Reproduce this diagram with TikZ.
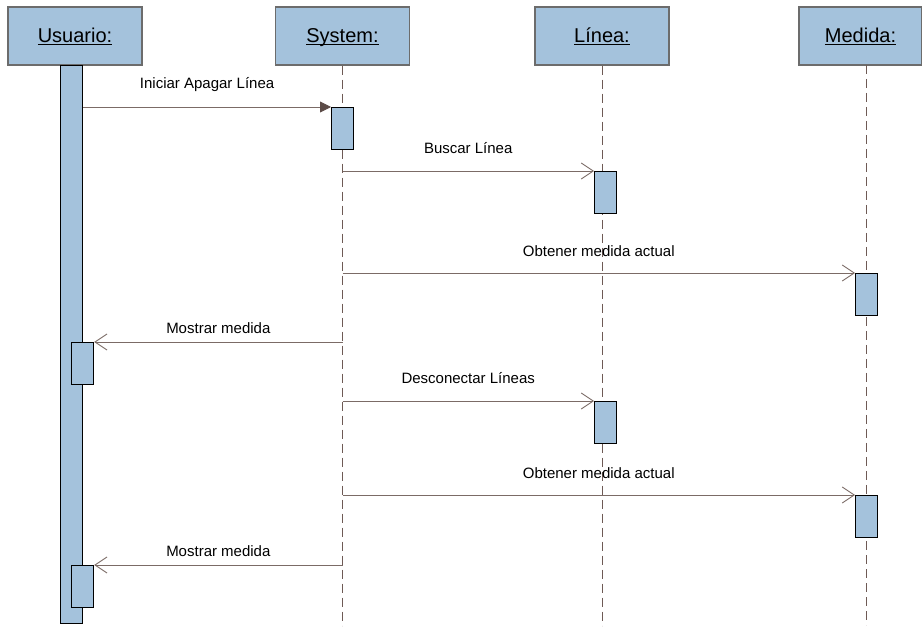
\documentclass[tikz,border=0pt]{standalone}
\usepackage{fontspec}
\setmainfont{Liberation Sans}
\usetikzlibrary{arrows.meta, positioning, calc}
\usepackage{xcolor}
\definecolor{boxblue}{HTML}{A4C2DC}
\definecolor{lifebrown}{HTML}{6E5A55}
\definecolor{msgbrown}{HTML}{7B6B66}
\definecolor{tipbrown}{HTML}{5C4B47}

\newcommand{\objname}[1]{\underline{\smash{#1}}}

\begin{document}
\begin{tikzpicture}[x=1pt, y=-1pt, >=Stealth,
    every node/.style={font=\fontsize{15}{18}\selectfont},
    head/.style={draw=gray!85!black, line width=1.2pt, fill=boxblue, minimum width=134pt,
      minimum height=58pt, inner sep=0pt, text height=14pt, text depth=0pt,
      font=\fontsize{20}{24}\selectfont},
    bar/.style={draw=black, line width=1.2pt, fill=boxblue, minimum width=22pt,
      minimum height=42pt, inner sep=0pt, anchor=north west},
    life/.style={draw=lifebrown, line width=1pt, dash pattern=on 9pt off 5pt},
    msg/.style={draw=msgbrown, line width=0.9pt, -{Straight Barb[length=12pt,width=16pt]}},
    call/.style={draw=msgbrown, line width=0.9pt, -{Triangle[length=11pt,width=11pt,color=tipbrown]}}]
  \useasboundingbox (0,0) rectangle (922,628);

  % object boxes
  \node[head] (usuario) at (75,36) {\objname{Usuario:}};
  \node[head] (system) at (342.5,36) {\objname{System:}};
  \node[head] (linea) at (602,36) {\objname{Línea:}};
  \node[head, minimum width=123pt] (medida) at (860.5,36) {\objname{Medida:}};

  % lifelines
  \coordinate (mtop) at (866,65);
  \draw[life] (system.south) -- ++(0,560);
  \draw[life] (linea.south) -- ++(0,560);
  \draw[life] (mtop) -- ++(0,560);

  % activation bars
  \node[bar, minimum height=558pt] (ubar) at (60,65) {};
  \node[bar] (s1) at (331,107) {};
  \node[bar] (l1) at (594,171) {};
  \node[bar] (m1) at (855,273) {};
  \node[bar] (u1) at (71,342) {};
  \node[bar] (l2) at (594,401) {};
  \node[bar] (m2) at (855,495) {};
  \node[bar] (u2) at (71,565) {};

  % messages
  \draw[call] (ubar.east |- s1.north west) -- (s1.north west)
    node[midway, yshift=22pt] {Iniciar Apagar Línea};
  \draw[msg] (system |- l1.north west) -- (l1.north west)
    node[midway, yshift=23pt] {Buscar Línea};
  \draw[msg] (system |- m1.north west) -- (m1.north west)
    node[midway, yshift=22pt] {Obtener medida actual};
  \draw[msg] (system |- u1.north east) -- (u1.north east)
    node[midway, yshift=14pt] {Mostrar medida};
  \draw[msg] (system |- l2.north west) -- (l2.north west)
    node[midway, yshift=23pt] {Desconectar Líneas};
  \draw[msg] (system |- m2.north west) -- (m2.north west)
    node[midway, yshift=22pt] {Obtener medida actual};
  \draw[msg] (system |- u2.north east) -- (u2.north east)
    node[midway, yshift=14pt] {Mostrar medida};

\end{tikzpicture}
\end{document}
